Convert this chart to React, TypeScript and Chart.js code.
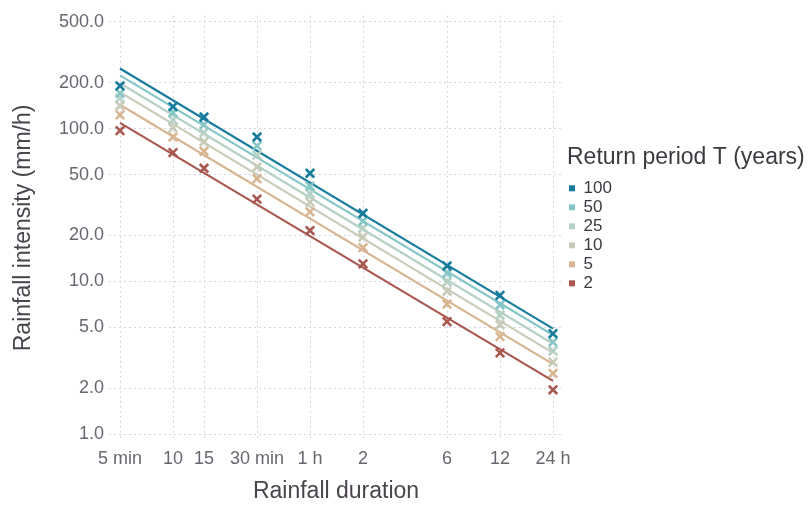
import React, { useEffect, useRef } from "react";
import { Chart, registerables } from "chart.js";

Chart.register(...registerables);

const durations = [5, 10, 15, 30, 60, 120, 360, 720, 1440];
const durationLabels: Record<number, string> = {
  5: "5 min", 10: "10", 15: "15", 30: "30 min", 60: "1 h", 120: "2", 360: "6", 720: "12", 1440: "24 h",
};
const yTicks = [1, 2, 5, 10, 20, 50, 100, 200, 500];
const returnPeriods = ["100", "50", "25", "10", "5", "2"];
const colors = ["#177c9c", "#86c6c6", "#b5d1c5", "#c7cbb8", "#d8b591", "#a8584f"];

const obs100 = [190, 139, 119, 88, 51, 27.9, 12.6, 8.1, 4.55];
const obs50 = [170, 127, 106, 77, 42, 24.8, 11.3, 7.0, 4.0];
const obs25 = [158, 114, 94, 67, 37.5, 22.3, 9.9, 6.0, 3.5];
const obs10 = [141, 101, 82, 56, 33, 19.5, 8.6, 5.2, 2.96];
const obs5 = [123, 88, 71, 47, 28.5, 16.6, 7.1, 4.35, 2.5];
const obs2 = [97, 69.5, 55, 34.5, 21.5, 13.0, 5.45, 3.4, 1.95];
const observed = [obs100, obs50, obs25, obs10, obs5, obs2];

const fitDurations = [5, 1440];
const fit100 = [247, 4.9];
const fit50 = [223, 4.45];
const fit25 = [198, 3.9];
const fit10 = [173, 3.4];
const fit5 = [143, 2.87];
const fit2 = [109, 2.23];
const fits = [fit100, fit50, fit25, fit10, fit5, fit2];

const FONT = "Liberation Sans";

const legendFixPlugin = {
  id: "legendFix",
  beforeLayout(chart: any) {
    const lg = chart.legend;
    if (lg && !lg._patched) {
      const orig = lg.fit.bind(lg);
      lg.fit = function () {
        orig();
        this.width = 249;
      };
      lg._patched = true;
    }
  },
  afterLayout(chart: any) {
    const lg = chart.legend;
    if (lg) {
      lg.top -= 38;
      lg.bottom -= 38;
      lg.left += 4;
      lg.right += 4;
    }
  },
};

export default function App() {
  const ref = useRef<HTMLCanvasElement | null>(null);
  useEffect(() => {
    document.body.style.margin = "0";
    const ctx = ref.current!;
    const datasets: any[] = [];
    returnPeriods.forEach((T, i) => {
      datasets.push({
        type: "line",
        label: T,
        data: fitDurations.map((d, j) => ({ x: d, y: fits[i][j] })),
        borderColor: colors[i],
        backgroundColor: colors[i],
        borderWidth: 2.2,
        pointRadius: 0,
        showLine: true,
        order: 10 + i,
      });
    });
    returnPeriods.forEach((T, i) => {
      datasets.push({
        type: "scatter",
        label: "obs " + T,
        data: durations.map((d, j) => ({ x: d, y: observed[i][j] })),
        borderColor: colors[i],
        backgroundColor: colors[i],
        pointStyle: "crossRot",
        pointRadius: 6,
        pointBorderWidth: 2.6,
        showLine: false,
        order: i,
      });
    });
    const tickColor = "#6b6570";
    const gridColor = "#d6d4e4";
    const chart = new Chart(ctx, {
      type: "scatter",
      data: { datasets },
      plugins: [legendFixPlugin],
      options: {
        animation: false,
        responsive: false,
        maintainAspectRatio: false,
        layout: { padding: { left: 8, right: 0, top: 10, bottom: 0 } },
        plugins: {
          tooltip: { enabled: false },
          legend: {
            position: "right",
            align: "center",
            title: {
              display: true,
              text: "Return period T (years)",
              color: "#3d3940",
              font: { family: FONT, size: 23 },
              padding: { top: 0, bottom: 4 },
              position: "start",
            } as any,
            labels: {
              color: "#3d3940",
              font: { family: FONT, size: 17 },
              boxWidth: 6,
              boxHeight: 6,
              padding: 2,
              generateLabels: () =>
                returnPeriods.map((T, i) => ({
                  text: T,
                  fillStyle: colors[i],
                  strokeStyle: colors[i],
                  lineWidth: 0,
                  hidden: false,
                  datasetIndex: i,
                  fontColor: "#3d3940",
                })),
            },
          },
        },
        scales: {
          x: {
            type: "logarithmic",
            min: 4.33,
            max: 1641,
            afterBuildTicks: (s: any) => {
              s.ticks = durations.map((v) => ({ value: v }));
            },
            afterFit: (s: any) => {
              s.height = 66;
            },
            ticks: {
              color: tickColor,
              font: { family: FONT, size: 18 },
              autoSkip: false,
              maxRotation: 0,
              padding: 8,
              callback: (v: any) => durationLabels[Number(v)] ?? "",
            },
            grid: { color: gridColor, lineWidth: 1, drawTicks: false },
            border: { display: false, dash: [2, 3] },
            title: {
              display: true,
              text: "Rainfall duration",
              color: "#4a454d",
              font: { family: FONT, size: 23 },
              padding: { top: 0, bottom: 1 },
            },
          },
          y: {
            type: "logarithmic",
            min: 0.915,
            max: 547,
            afterBuildTicks: (s: any) => {
              s.ticks = yTicks.map((v) => ({ value: v }));
            },
            afterFit: (s: any) => {
              s.width = 101;
            },
            ticks: {
              color: tickColor,
              font: { family: FONT, size: 18 },
              autoSkip: false,
              padding: 5,
              callback: (v: any) => Number(v).toFixed(1),
            },
            grid: { color: gridColor, lineWidth: 1, drawTicks: false },
            border: { display: false, dash: [2, 3] },
            title: {
              display: true,
              text: "Rainfall intensity (mm/h)",
              color: "#4a454d",
              font: { family: FONT, size: 23 },
              padding: { top: 2, bottom: 0 },
            },
          },
        },
      } as any,
    });
    return () => chart.destroy();
  }, []);
  return (
    <div style={{ position: "fixed", left: 0, top: 0, width: 812, height: 506 }}>
      <canvas ref={ref} width={812} height={506} style={{ width: 812, height: 506 }} />
    </div>
  );
}
